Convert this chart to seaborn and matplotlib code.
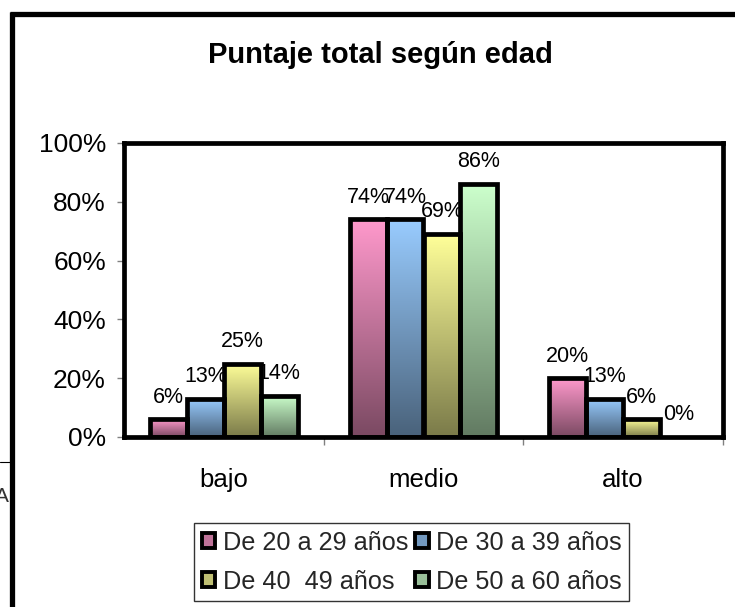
import numpy as np
import pandas as pd
import matplotlib
matplotlib.use("Agg")
import matplotlib.pyplot as plt
import seaborn as sns
from matplotlib.patches import Patch
from matplotlib.lines import Line2D
from matplotlib.ticker import FixedLocator, FuncFormatter

# ---- data ----
categories = ["bajo", "medio", "alto"]
series = ["De 20 a 29 años", "De 30 a 39 años", "De 40  49 años", "De 50 a 60 años"]
v_20_29 = [6, 74, 20]
v_30_39 = [13, 74, 13]
v_40_49 = [25, 69, 6]
v_50_60 = [14, 86, 0]
title = "Puntaje total según edad"
yticks = [0, 20, 40, 60, 80, 100]

top_colors = ["#FF99CC", "#99CCFF", "#FFFF99", "#CCFFCC"]

rows = []
for s, vals in zip(series, [v_20_29, v_30_39, v_40_49, v_50_60]):
    for c, v in zip(categories, vals):
        rows.append({"cat": c, "serie": s, "val": v})
df = pd.DataFrame(rows)

sns.set_theme(style="white")
plt.rcParams["font.family"] = ["Liberation Sans", "DejaVu Sans"]

W, H = 735, 607
fig = plt.figure(figsize=(W / 100, H / 100), dpi=100)
fig.patch.set_facecolor("white")

def fx(px):
    return px / W

def fy(py):
    return 1 - py / H

ax = fig.add_axes([fx(124), fy(437), fx(723) - fx(124), fy(143) - fy(437)])
sns.barplot(data=df, x="cat", y="val", hue="serie", order=categories,
            hue_order=series, palette=top_colors, width=0.74, ax=ax,
            edgecolor="black", linewidth=3.4, legend=False, saturation=1)

# gradient fill per bar
for cont, col in zip(ax.containers, top_colors):
    rgb = np.array(matplotlib.colors.to_rgb(col))
    dark = rgb * 0.48
    for bar in cont.patches:
        x, y = bar.get_x(), bar.get_y()
        w, h = bar.get_width(), bar.get_height()
        if h <= 0:
            bar.set_visible(False)
            continue
        t = np.linspace(0, 1, 128)[:, None, None]
        grad = dark[None, None, :] * (1 - t) + rgb[None, None, :] * t
        im = ax.imshow(grad, extent=[x, x + w, y, y + h], origin="lower",
                       aspect="auto", zorder=2, interpolation="bilinear")
        im.set_clip_path(bar)
        bar.set_facecolor("none")
        bar.set_zorder(3)

# data labels
for cont in ax.containers:
    for bar in cont.patches:
        h = bar.get_height()
        ax.annotate(f"{int(round(h))}%", (bar.get_x() + bar.get_width() / 2, h),
                    xytext=(0, 12), textcoords="offset points", ha="center",
                    va="baseline", fontsize=15.5, color="black", zorder=5)

ax.set_xlim(-0.5, 2.5)
ax.set_ylim(0, 100)
ax.yaxis.set_major_locator(FixedLocator(yticks))
ax.yaxis.set_major_formatter(FuncFormatter(lambda v, p: f"{int(v)}%"))
ax.set_xlabel("")
ax.set_ylabel("")
ax.tick_params(axis="y", which="major", left=True, length=5, width=1,
               color="#808080", labelsize=19, pad=8, labelcolor="black")
ax.tick_params(axis="x", which="major", bottom=True, length=0, labelsize=18.5,
               pad=22, labelcolor="black")
ax.set_xticks([0.5, 1.5, 2.5], minor=True)
ax.tick_params(axis="x", which="minor", bottom=True, length=6, width=1,
               color="#808080", direction="out")
for sp in ax.spines.values():
    sp.set_visible(True)
    sp.set_color("black")
    sp.set_linewidth(3.4)
    sp.set_zorder(6)

# title
fig.text(fx(380), fy(55), title, ha="center", va="center", fontsize=21,
         fontweight="bold", color="black")

# legend (row-wise order as in the original)
handles = [Patch(facecolor=tuple(np.array(matplotlib.colors.to_rgb(c)) * 0.75),
                 edgecolor="black", linewidth=2.8) for c in top_colors]
order = [0, 2, 1, 3]
leg = fig.legend([handles[i] for i in order], [series[i] for i in order],
                 loc="upper left",
                 bbox_to_anchor=(fx(194), fy(523)), ncol=2, fontsize=18.2,
                 frameon=True, fancybox=False, edgecolor="black",
                 handlelength=0.55, handleheight=0.55, handletextpad=0.3,
                 columnspacing=0.25, labelspacing=0.6, borderpad=0.3,
                 borderaxespad=0)
leg.get_frame().set_linewidth(1.0)

# outer chart frame (partially out of view)
fig.add_artist(Line2D([fx(9.5), fx(740)], [fy(14), fy(14)], color="black",
                      linewidth=3.8, solid_capstyle="butt",
                      transform=fig.transFigure))
fig.add_artist(Line2D([fx(11.5), fx(11.5)], [fy(12), fy(615)], color="black",
                      linewidth=3.8, solid_capstyle="butt",
                      transform=fig.transFigure))
# stray fragments at far left
fig.add_artist(Line2D([fx(0), fx(10)], [fy(462), fy(462)], color="black",
                      linewidth=0.8, transform=fig.transFigure))
fig.text(fx(9), fy(496), "A", ha="right", va="center", fontsize=15,
         color="#333333")

fig.savefig("out.png", dpi=100, facecolor="white")
